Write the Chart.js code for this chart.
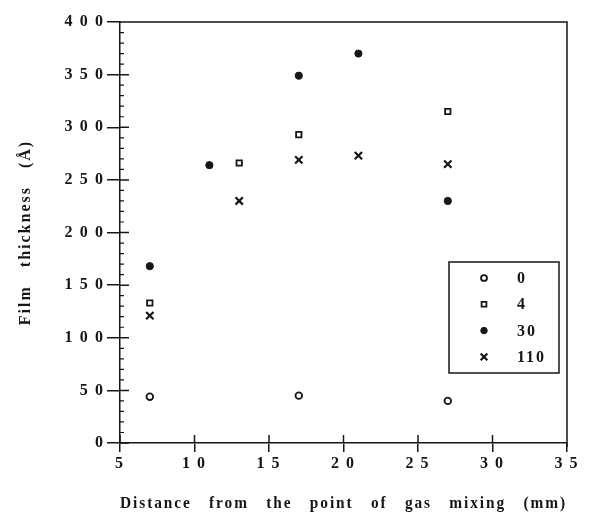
<!DOCTYPE html>
<html>
<head>
<meta charset="utf-8">
<script src="https://cdn.jsdelivr.net/npm/chart.js@4.4.1/dist/chart.umd.min.js"></script>
<style>
  html, body { margin: 0; padding: 0; background: #fff; }
</style>
</head>
<body>
<canvas id="chart" width="603" height="519"></canvas>
<script>
// legend labels (gas ratio)
const seriesLabels = ['0', '4', '30', '110'];

// distance (mm) / film thickness (Å) per series
const dist0 = [7, 17, 27];
const thick0 = [44, 45, 40];

const dist4 = [7, 13, 17, 27];
const thick4 = [133, 266, 293, 315];

const dist30 = [7, 11, 17, 21, 27];
const thick30 = [168, 264, 349, 370, 230];

const dist110 = [7, 13, 17, 21, 27];
const thick110 = [121, 230, 269, 273, 265];

const xRange = [5, 35];
const yRange = [0, 400];

const ink = '#161616';
const serif = '"Liberation Serif", "Times New Roman", serif';

const markerStyles = [
  { pointStyle: 'circle', radius: 3.3, border: 1.8, fill: '#fff' },
  { pointStyle: 'rect', radius: 3.8, border: 1.8, fill: '#fff' },
  { pointStyle: 'circle', radius: 3.6, border: 1, fill: ink },
  { pointStyle: 'crossRot', radius: 5.2, border: 2.2, fill: ink }
];

const toPoints = (xs, ys) => xs.map((x, i) => ({ x, y: ys[i] }));
const seriesData = [
  toPoints(dist0, thick0),
  toPoints(dist4, thick4),
  toPoints(dist30, thick30),
  toPoints(dist110, thick110)
];

const datasets = seriesLabels.map((label, i) => ({
  label,
  data: seriesData[i],
  pointStyle: markerStyles[i].pointStyle,
  pointRadius: markerStyles[i].radius,
  pointBorderWidth: markerStyles[i].border,
  backgroundColor: markerStyles[i].fill,
  borderColor: ink,
  showLine: false
}));

const spaced = v => String(v).split('').join('\u2009');

// printed-look text: a little letter and word spacing
const setSpacing = ctx => { ctx.letterSpacing = '2px'; ctx.wordSpacing = '12px'; };
const spacing = {
  id: 'spacing',
  beforeLayout(chart) { setSpacing(chart.ctx); },
  beforeDraw(chart) { setSpacing(chart.ctx); }
};

// box frame, inward tick marks, minor ticks and the boxed legend
const frame = {
  id: 'frame',
  afterDraw(chart) {
    const { ctx, chartArea: a } = chart;
    const x = chart.scales.x, y = chart.scales.y;
    ctx.save();
    ctx.strokeStyle = ink;
    ctx.lineWidth = 1.5;
    ctx.beginPath();
    ctx.moveTo(a.left, a.top);
    ctx.lineTo(a.right, a.top);
    ctx.lineTo(a.right, a.bottom + 4);
    y.ticks.forEach(t => {
      const py = y.getPixelForValue(t.value);
      ctx.moveTo(a.left, py);
      ctx.lineTo(a.left + 9, py);
    });
    x.ticks.forEach(t => {
      const px = x.getPixelForValue(t.value);
      ctx.moveTo(px, a.bottom);
      ctx.lineTo(px, a.bottom - 8);
    });
    ctx.stroke();

    ctx.lineWidth = 1.2;
    ctx.beginPath();
    for (let v = y.min + 10; v < y.max; v += 10) {
      if (v % 50 === 0) continue;
      const py = y.getPixelForValue(v);
      ctx.moveTo(a.left, py);
      ctx.lineTo(a.left + 4, py);
    }
    ctx.stroke();

    // legend
    const bx = a.right - 118, by = a.bottom - 181, bw = 110, bh = 111;
    ctx.lineWidth = 1.5;
    ctx.strokeRect(bx, by, bw, bh);
    ctx.font = 'bold 16px ' + serif;
    ctx.textBaseline = 'middle';
    ctx.textAlign = 'left';
    chart.data.datasets.forEach((ds, i) => {
      const ry = by + 16 + i * 26.3;
      ctx.fillStyle = ds.backgroundColor;
      ctx.strokeStyle = ds.borderColor;
      ctx.lineWidth = ds.pointBorderWidth;
      Chart.helpers.drawPoint(ctx, {
        pointStyle: ds.pointStyle,
        radius: ds.pointRadius * 0.9,
        borderWidth: ds.pointBorderWidth,
        rotation: 0
      }, bx + 35, ry);
      ctx.fillStyle = ink;
      ctx.fillText(ds.label, bx + 68, ry + 1);
    });
    ctx.restore();
  }
};

const tickFont = { family: serif, weight: 'bold', size: 16 };
const titleFont = { family: serif, weight: 'bold', size: 16 };

new Chart(document.getElementById('chart'), {
  type: 'scatter',
  data: { datasets },
  plugins: [spacing, frame],
  options: {
    responsive: false,
    animation: false,
    devicePixelRatio: 1,
    layout: { padding: { left: 12, top: 22, right: 36, bottom: 4 } },
    plugins: { legend: { display: false }, tooltip: { enabled: false } },
    scales: {
      x: {
        type: 'linear',
        min: xRange[0],
        max: xRange[1],
        ticks: { stepSize: 5, color: ink, font: tickFont, padding: 2, maxRotation: 0, callback: spaced },
        grid: { drawOnChartArea: false, color: ink, lineWidth: 1.5, tickLength: 9 },
        border: { color: ink, width: 1.5 },
        title: {
          display: true,
          text: 'Distance from the point of gas mixing (mm)',
          color: ink,
          font: titleFont,
          padding: { top: 0, bottom: 2 }
        },
        afterFit(s) { s.height = 72; }
      },
      y: {
        min: yRange[0],
        max: yRange[1],
        ticks: { stepSize: 50, color: ink, font: tickFont, padding: 2, callback: spaced },
        grid: { drawOnChartArea: false, color: ink, lineWidth: 1.5, tickLength: 13 },
        border: { color: ink, width: 1.5 },
        title: {
          display: true,
          text: 'Film thickness (Å)',
          color: ink,
          font: titleFont,
          padding: { top: 4, bottom: 0 }
        },
        afterFit(s) { s.width = 108; }
      }
    }
  }
});
</script>
</body>
</html>
